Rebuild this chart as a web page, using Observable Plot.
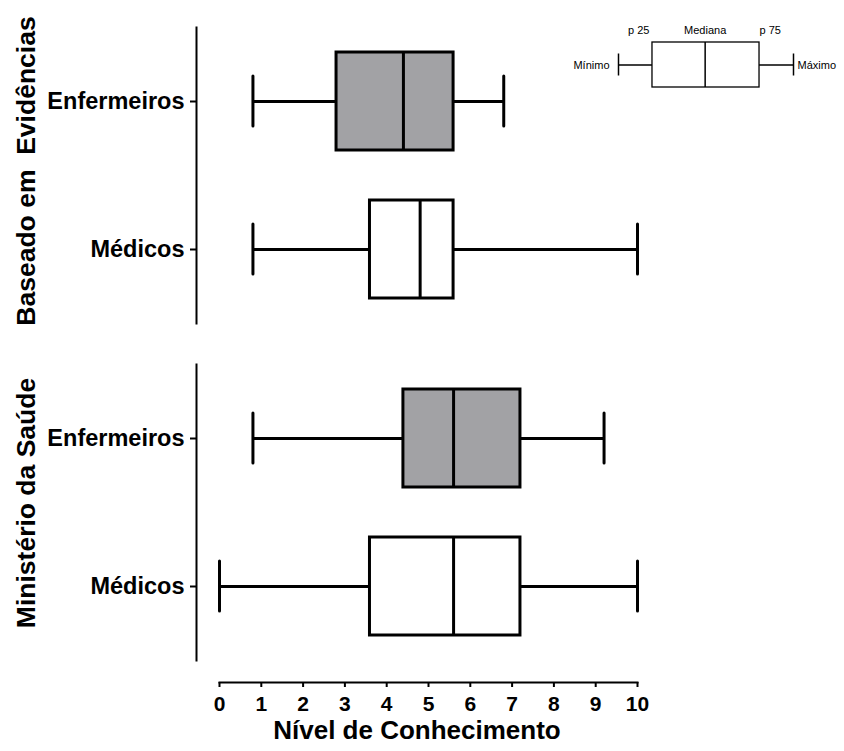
<!DOCTYPE html>
<html>
<head>
<meta charset="utf-8">
<script src="https://cdn.jsdelivr.net/npm/d3@7"></script>
<script src="https://cdn.jsdelivr.net/npm/@observablehq/plot@0.6"></script>
<style>
  body { margin: 0; background: #fff; }
  #wrap { position: relative; width: 844px; height: 751px; }
  #legend { position: absolute; left: 560px; top: 10px; }
  svg { max-width: none !important; }
</style>
</head>
<body>
<div id="wrap">
  <div id="chart"></div>
  <div id="legend"></div>
</div>
<script>
// Knowledge scores (0–10) by source of guidance and profession
const groups = ["Baseado em\u00a0 Evidências", "Ministério da Saúde"];
const professions = ["Enfermeiros", "Médicos"];
const rowGroup = [groups[0], groups[0], groups[1], groups[1]];
const rowProfession = ["Enfermeiros", "Médicos", "Enfermeiros", "Médicos"];
const minimo  = [0.8, 0.8, 0.8, 0.0];
const p25     = [2.8, 3.6, 4.4, 3.6];
const mediana = [4.4, 4.8, 5.6, 5.6];
const p75     = [5.6, 5.6, 7.2, 7.2];
const maximo  = [6.8, 10.0, 9.2, 10.0];
const xTicks  = [0, 1, 2, 3, 4, 5, 6, 7, 8, 9, 10];
const xTitle  = "Nível de Conhecimento";

// Key explaining the box parts (illustrative positions)
const legendLabels = ["Mínimo", "p 25", "Mediana", "p 75", "Máximo"];
const legendStats  = [0, 1, 2.55, 4.15, 5.15];

const boxFill = {Enfermeiros: "#a2a2a5", "Médicos": "#ffffff"};
const font = "'Liberation Sans', Arial, Helvetica, sans-serif";

const rows = rowGroup.map((g, i) => ({
  grupo: g, prof: rowProfession[i],
  min: minimo[i], q1: p25[i], med: mediana[i], q3: p75[i], max: maximo[i]
}));

const box = {y: "prof", fy: "grupo"};

const chart = Plot.plot({
  width: 844,
  height: 751,
  marginLeft: 196,
  marginRight: 207,
  marginTop: 27,
  marginBottom: 91,
  style: {fontFamily: font, color: "#000", background: "#fff"},
  x: {domain: [0, 10], insetLeft: 23},
  y: {domain: professions, paddingInner: 0.335, paddingOuter: 0.1675},
  fy: {domain: groups, paddingInner: 0.1217, paddingOuter: 0, axis: null},
  color: {type: "identity"},
  marks: [
    Plot.frame({anchor: "left", strokeWidth: 2}),
    Plot.frame({anchor: "bottom", insetLeft: 23, insetBottom: -22, strokeWidth: 2, facetAnchor: "bottom"}),
    Plot.axisY({tickSize: 6, tickPadding: 6, strokeWidth: 2, fontSize: 23.5, fontWeight: "bold", label: null}),
    Plot.axisX({ticks: xTicks, tickFormat: d3.format("d"), tickSize: 5, tickPadding: 9, strokeWidth: 2,
                fontSize: 21, fontWeight: "bold", dy: 22, label: null}),
    Plot.axisX({ticks: [], tickSize: 0, label: xTitle, labelAnchor: "center", labelArrow: "none",
                labelOffset: 78, fontSize: 26, fontWeight: "bold"}),
    // whiskers
    Plot.ruleY(rows, {...box, x1: "min", x2: "q1", strokeWidth: 3}),
    Plot.ruleY(rows, {...box, x1: "q3", x2: "max", strokeWidth: 3}),
    Plot.tickX(rows, {...box, x: "min", insetTop: 24, insetBottom: 24, strokeWidth: 3, strokeLinecap: "round"}),
    Plot.tickX(rows, {...box, x: "max", insetTop: 24, insetBottom: 24, strokeWidth: 3, strokeLinecap: "round"}),
    // boxes and medians
    Plot.barX(rows, {...box, x1: "q1", x2: "q3", fill: d => boxFill[d.prof], stroke: "#000", strokeWidth: 3}),
    Plot.tickX(rows, {...box, x: "med", strokeWidth: 3}),
    // group titles
    Plot.text([groups[0]], {fy: d => d, text: d => d, frameAnchor: "left", textAnchor: "middle", rotate: -90,
                            dx: -170, dy: -4.5, fontSize: 26.5, fontWeight: "bold"}),
    Plot.text([groups[1]], {fy: d => d, text: d => d, frameAnchor: "left", textAnchor: "middle", rotate: -90,
                            dx: -170, dy: -9.5, fontSize: 26.5, fontWeight: "bold"})
  ]
});
document.getElementById("chart").append(chart);

const key = {y: "k", min: legendStats[0], q1: legendStats[1], med: legendStats[2], q3: legendStats[3], max: legendStats[4]};
const legend = Plot.plot({
  width: 284,
  height: 90,
  marginLeft: 58,
  marginRight: 51,
  marginTop: 32,
  marginBottom: 13,
  style: {fontFamily: font, color: "#000", background: "transparent"},
  x: {domain: [legendStats[0], legendStats[4]], axis: null},
  y: {domain: ["k"], padding: 0, axis: null},
  marks: [
    Plot.ruleY([key], {y: "y", x1: "min", x2: "q1", strokeWidth: 1.3}),
    Plot.ruleY([key], {y: "y", x1: "q3", x2: "max", strokeWidth: 1.3}),
    Plot.tickX([key], {y: "y", x: "min", insetTop: 11.5, insetBottom: 11.5, strokeWidth: 1.5}),
    Plot.tickX([key], {y: "y", x: "max", insetTop: 11.5, insetBottom: 11.5, strokeWidth: 1.5}),
    Plot.barX([key], {y: "y", x1: "q1", x2: "q3", fill: "#fff", stroke: "#000", strokeWidth: 1.3}),
    Plot.tickX([key], {y: "y", x: "med", strokeWidth: 1.5}),
    Plot.text([key], {y: "y", x: "min", text: () => legendLabels[0], textAnchor: "end", dx: -9, fontSize: 11}),
    Plot.text([key], {y: "y", x: "max", text: () => legendLabels[4], textAnchor: "start", dx: 4, fontSize: 11}),
    Plot.text([key], {x: "q1", text: () => legendLabels[1], frameAnchor: "top", textAnchor: "end", lineAnchor: "bottom", dx: -3, dy: -9, fontSize: 11}),
    Plot.text([key], {x: "med", text: () => legendLabels[2], frameAnchor: "top", lineAnchor: "bottom", dy: -9, fontSize: 11}),
    Plot.text([key], {x: "q3", text: () => legendLabels[3], frameAnchor: "top", textAnchor: "start", lineAnchor: "bottom", dy: -9, fontSize: 11})
  ]
});
document.getElementById("legend").append(legend);
</script>
</body>
</html>
